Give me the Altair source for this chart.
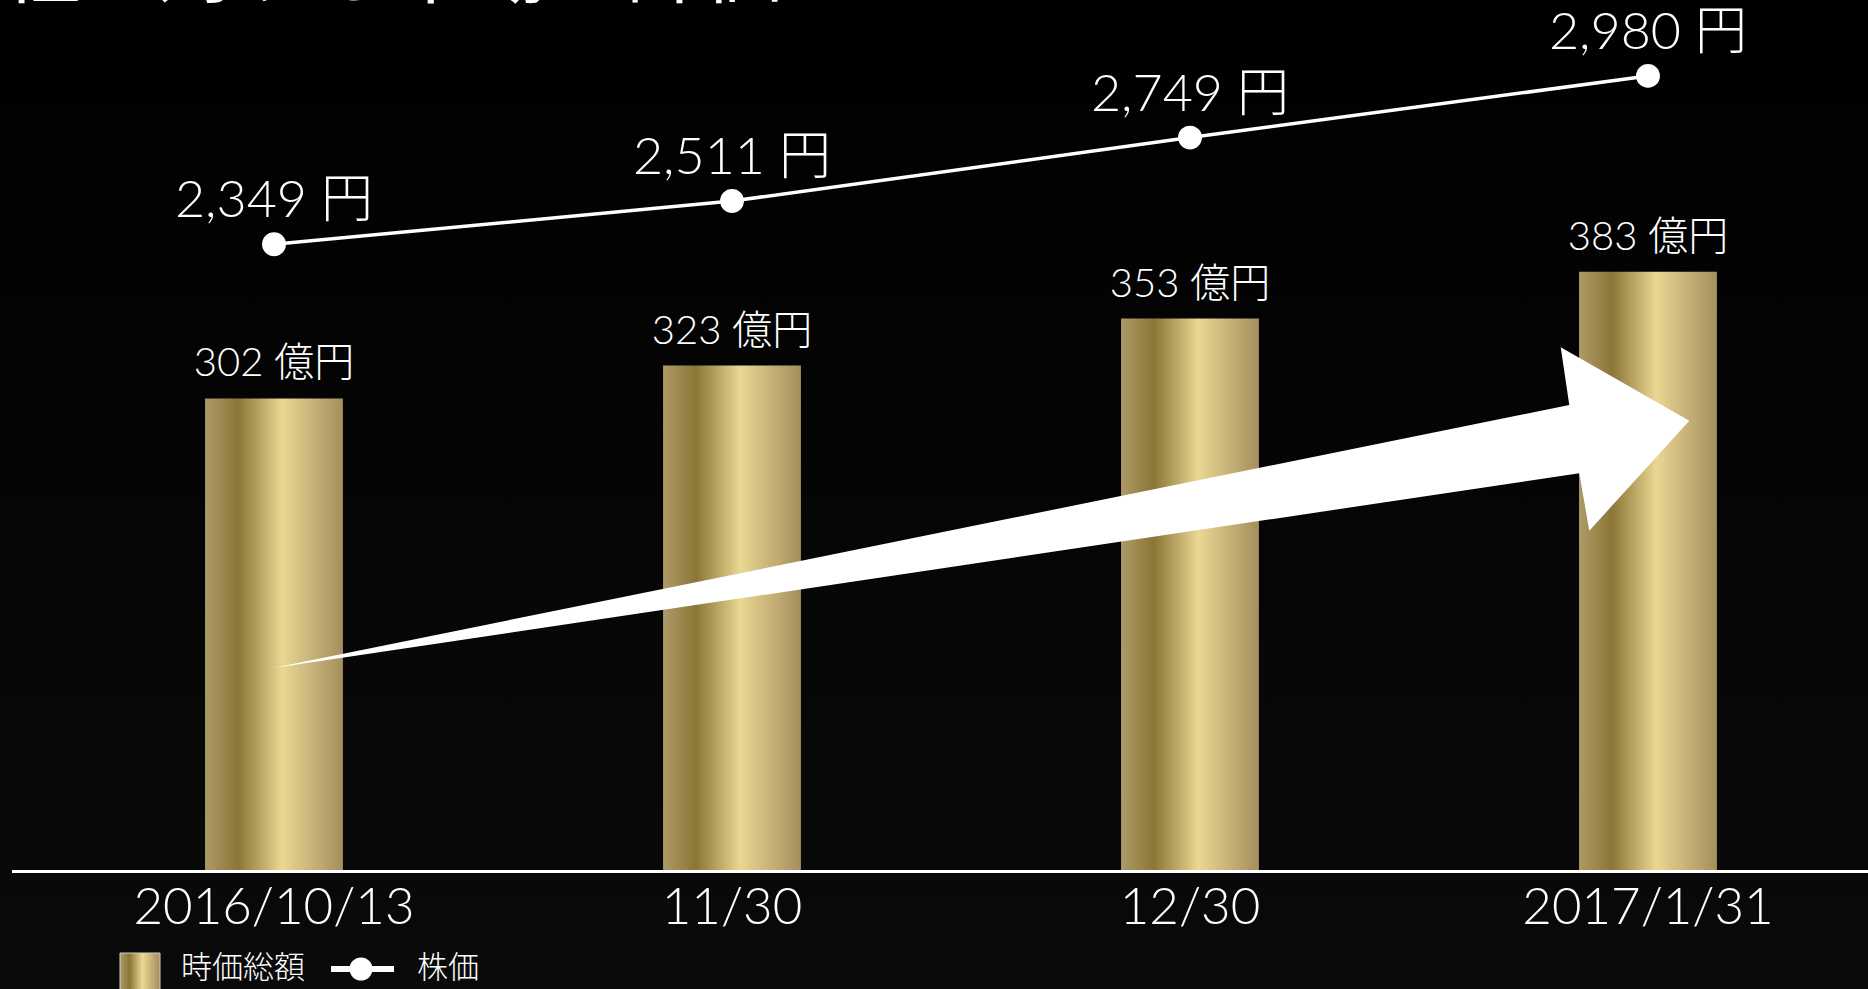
import altair as alt
import pandas as pd

# ---- data ----
dates = ["2016/10/13", "11/30", "12/30", "2017/1/31"]
market_cap = [302, 323, 353, 383]          # 億円
share_price = [2349, 2511, 2749, 2980]     # 円
legend_labels = ["時価総額", "株価"]
title_text = "当社に対する市場の評価は"

df = pd.DataFrame({
    "date": dates,
    "cap": market_cap,
    "price": share_price,
})
df["cap_label"] = [f"{v} 億円" for v in market_cap]
df["price_label"] = [f"{v:,} 円" for v in share_price]

FONT = "Lato, 'Noto Sans CJK JP', sans-serif"
W, H = 1868, 871

gold = alt.Gradient(
    gradient="linear", x1=0, x2=1, y1=0, y2=0,
    stops=[
        alt.GradientStop(offset=0.0, color="#ae9a68"),
        alt.GradientStop(offset=0.24, color="#8b7636"),
        alt.GradientStop(offset=0.56, color="#e9d792"),
        alt.GradientStop(offset=1.0, color="#a48e5e"),
    ],
)

bg_grad = alt.Gradient(
    gradient="linear", x1=0, x2=0, y1=0, y2=1,
    stops=[
        alt.GradientStop(offset=0.0, color="#000000"),
        alt.GradientStop(offset=1.0, color="#0a0a0a"),
    ],
)

x_enc = alt.X(
    "date:N", sort=dates, title=None,
    scale=alt.Scale(range=[45, 1877], paddingInner=0.699, paddingOuter=0.3495),
    axis=None,
)

one = pd.DataFrame({"k": [0]})

background = alt.Chart(one).mark_rect(fill=bg_grad).encode(
    x=alt.value(0), x2=alt.value(W), y=alt.value(0), y2=alt.value(995)
)

y_cap = alt.Y("cap:Q", scale=alt.Scale(domain=[0, 556.6], nice=False), axis=None)
bars = alt.Chart(df).mark_bar(fill=gold).encode(x=x_enc, y=y_cap)
bar_text = alt.Chart(df).mark_text(
    font=FONT, fontSize=40, fontWeight=300, color="white",
    baseline="alphabetic", dy=-22,
).encode(x=x_enc, y=y_cap, text="cap_label:N")
bar_layer = alt.layer(bars, bar_text)

arrow_path = ("M -1 0.2264 L 0.8307 -0.1450 L 0.8186 -0.2264 L 1 -0.1229 "
              "L 0.8589 0.0323 L 0.8448 -0.0487 Z")
arrow = alt.Chart(one).mark_point(
    shape=arrow_path, filled=True, color="white", opacity=1,
    strokeWidth=0, size=2009873,
).encode(x=alt.value(980.45), y=alt.value(507.8))

y_price = alt.Y("price:Q", scale=alt.Scale(domain=[0, 3264.6], nice=False), axis=None)
line = alt.Chart(df).mark_line(color="white", strokeWidth=3.5).encode(
    x=x_enc, y=y_price, order=alt.Order("cap:Q")
)
points = alt.Chart(df).mark_point(
    filled=True, color="white", opacity=1, size=570
).encode(x=x_enc, y=y_price)
price_text = alt.Chart(df).mark_text(
    font=FONT, fontSize=52, fontWeight=300, color="white",
    baseline="alphabetic", dy=-27,
).encode(x=x_enc, y=y_price, text="price_label:N")
line_layer = alt.layer(line, points, price_text)

# category labels under the baseline
date_text = alt.Chart(df).mark_text(
    font=FONT, fontSize=51, fontWeight=300, color="white",
    baseline="alphabetic",
).encode(x=x_enc, y=alt.value(924), text="date:N")

baseline_rule = alt.Chart(one).mark_rule(color="white", strokeWidth=3).encode(
    x=alt.value(12), x2=alt.value(W), y=alt.value(871.5)
)

legend_swatch = alt.Chart(one).mark_rect(
    fill=gold, stroke="#cfcfcf", strokeWidth=1
).encode(x=alt.value(120), x2=alt.value(160), y=alt.value(953), y2=alt.value(1000))
legend_text1 = alt.Chart(one).mark_text(
    text=legend_labels[0], font=FONT, fontSize=31, fontWeight=300,
    color="white", align="left", baseline="middle",
).encode(x=alt.value(181), y=alt.value(969))
legend_line = alt.Chart(one).mark_rule(color="white", strokeWidth=6).encode(
    x=alt.value(331), x2=alt.value(394), y=alt.value(969)
)
legend_dot = alt.Chart(one).mark_point(
    filled=True, color="white", opacity=1, size=530
).encode(x=alt.value(361), y=alt.value(969))
legend_text2 = alt.Chart(one).mark_text(
    text=legend_labels[1], font=FONT, fontSize=31, fontWeight=300,
    color="white", align="left", baseline="middle",
).encode(x=alt.value(417), y=alt.value(969))

title = alt.Chart(one).mark_text(
    text=title_text, font="'Noto Sans CJK JP'", fontSize=78,
    color="white", align="left", baseline="alphabetic",
).encode(x=alt.value(-76), y=alt.value(-3))

chart = alt.layer(
    background, bar_layer, arrow, line_layer, date_text, baseline_rule,
    legend_swatch, legend_text1, legend_line, legend_dot, legend_text2, title,
).resolve_scale(y="independent").properties(
    width=W, height=H,
    autosize=alt.AutoSizeParams(type="none"),
    padding={"top": 0, "left": 0, "right": 0, "bottom": 118},
    background="#000000",
).configure_view(stroke=None)

chart.save("out.html", embed_options={"renderer": "svg", "actions": False})
